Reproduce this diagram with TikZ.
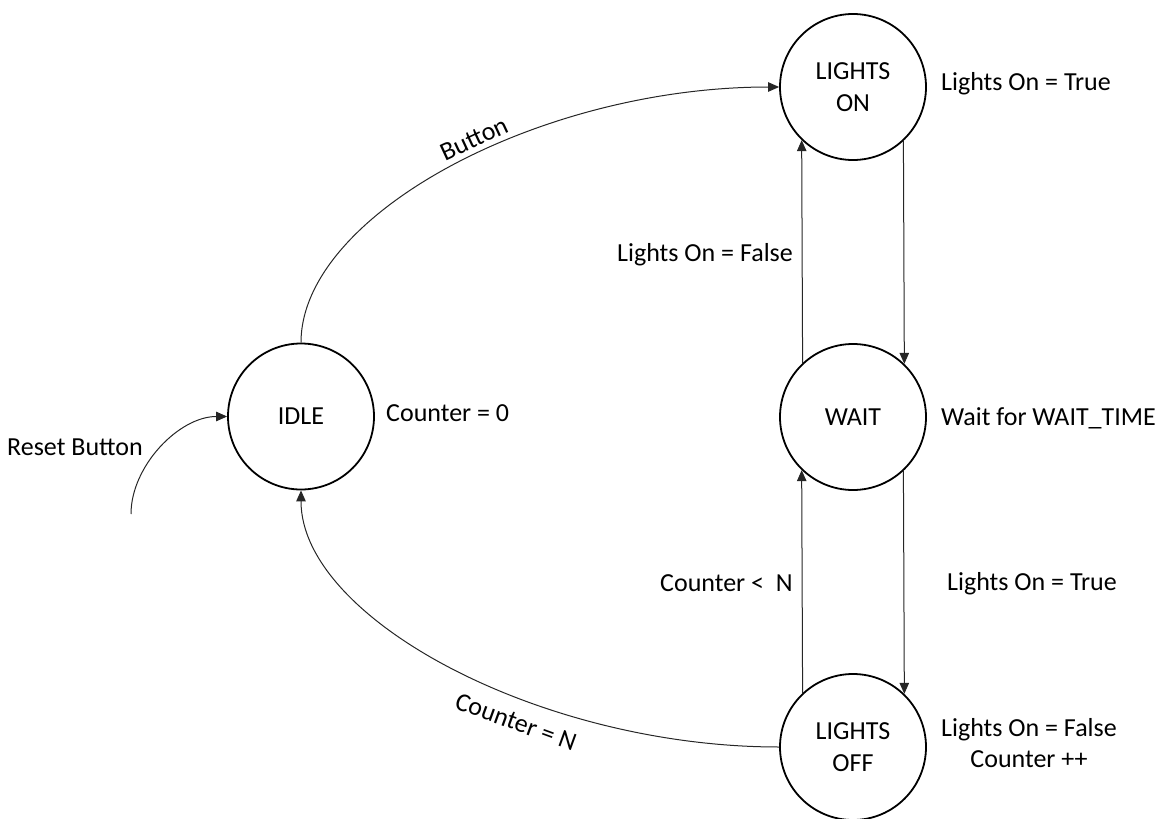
\documentclass[tikz,border=0pt]{standalone}
\usepackage{fontspec}
\setmainfont{Carlito}
\usetikzlibrary{arrows.meta}
\begin{document}
\begin{tikzpicture}[x=1pt,y=-1pt,
  every node/.style={font=\fontsize{26pt}{31.5pt}\selectfont},
  state/.style={circle,draw=black,line width=1.8pt,minimum size=146pt,inner sep=0pt,align=center},
  conn/.style={draw=black!85,line width=1pt,-{Triangle[length=11pt,width=9.5pt]}},
  lbl/.style={inner sep=0pt}]
\useasboundingbox (0,0) rectangle (1160,819);

% states
\node[state] (idle) at (301,416.5) {IDLE};
\node[state] (lon)  at (853,87)    {LIGHTS\\ON};
\node[state] (wait) at (853,417)   {WAIT};
\node[state] (loff) at (853,747)   {LIGHTS\\OFF};

% vertical transitions between the right-hand states
\draw[conn] (wait.133.6) -- (lon.226.4);
\draw[conn] (lon.313.6)  -- (wait.46.4);
\draw[conn] (loff.133.6) -- (wait.226.4);
\draw[conn] (wait.313.6) -- (loff.46.4);

% curved transitions
\draw[conn] (idle.north) .. controls +(0,-128) and +(-239,0) .. (lon.west);
\draw[conn] (loff.west) .. controls +(-239,0) and +(0,128) .. (idle.south);
\coordinate (rst) at (131,514);
\draw[conn] (rst) .. controls +(0,-48) and +(-48,0) .. (idle.west);

% transition labels
\node[lbl,rotate=25]  (lbutton) at (474,139) {Button};
\node[lbl,rotate=-20] (lcountn) at (516,722) {Counter = N};
\node[lbl,anchor=base west] (lreset) at (7,455) {Reset Button};
\node[lbl,anchor=base west] (lfalse) at (617,261) {Lights On = False};
\node[lbl,anchor=base west] (lless)  at (660,591) {Counter <\ \ N};
\node[lbl,anchor=base west] (ltrue)  at (947,590) {Lights On = True};

% state outputs
\node[lbl,anchor=base west] (oon)   at (941,90)  {Lights On = True};
\node[lbl,anchor=base west] (oidle) at (386,421) {Counter = 0};
\node[lbl,anchor=base west] (owait) at (941,425) {Wait for WAIT\_TIME};
\node[lbl,anchor=base] (off1) at (1029,736) {Lights On = False};
\node[lbl,anchor=base] (off2) at (1029,767) {Counter ++};
\end{tikzpicture}
\end{document}
